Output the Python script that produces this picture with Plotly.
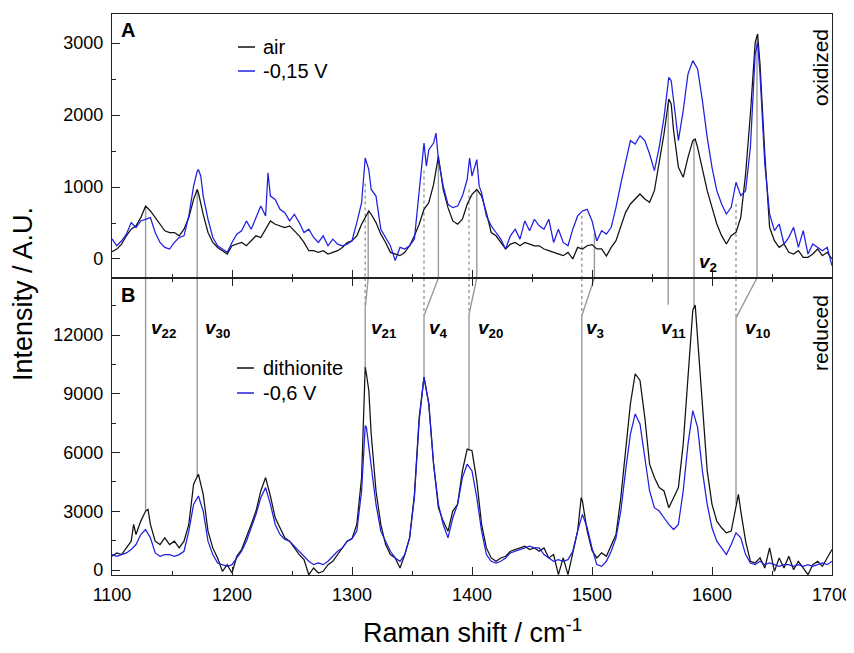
import numpy as np
import plotly.graph_objects as go

# ---------------- data ----------------
air = [(1100,100),(1104,138),(1108,207),(1112,322),(1116,414),(1120,460),(1124,575),(1128,736),(1132,667),(1136,575),(1140,483),(1144,391),(1148,368),(1152,368),(1156,322),(1160,414),(1164,575),(1168,828),(1171,966),(1172,920),(1176,621),(1180,368),(1184,230),(1188,161),(1192,115),(1196,69),(1200,184),(1204,207),(1208,230),(1212,184),(1216,253),(1220,322),(1224,299),(1228,414),(1232,529),(1236,483),(1240,460),(1244,437),(1248,460),(1252,391),(1256,322),(1260,230),(1264,115),(1268,115),(1272,92),(1276,115),(1280,69),(1284,92),(1288,115),(1292,161),(1296,230),(1300,253),(1304,322),(1308,483),(1312,621),(1314,667),(1316,621),(1320,506),(1324,345),(1328,230),(1332,92),(1336,69),(1340,46),(1344,92),(1348,184),(1352,322),(1356,483),(1360,690),(1364,782),(1368,1035),(1372,1426),(1376,966),(1380,713),(1384,529),(1388,483),(1392,552),(1396,759),(1400,897),(1404,966),(1408,874),(1412,644),(1416,368),(1420,322),(1424,230),(1428,138),(1432,207),(1436,230),(1440,184),(1444,230),(1448,207),(1452,184),(1456,184),(1460,138),(1464,115),(1468,92),(1472,69),(1476,46),(1480,92),(1484,0),(1488,161),(1492,138),(1496,184),(1500,200),(1504,139),(1508,139),(1512,40),(1516,162),(1520,255),(1524,440),(1528,648),(1532,764),(1536,833),(1540,903),(1544,833),(1548,787),(1552,949),(1556,1366),(1560,1736),(1564,2222),(1566,2153),(1568,1783),(1572,1273),(1576,1134),(1580,1412),(1584,1644),(1586,1667),(1588,1551),(1592,1227),(1596,949),(1600,718),(1604,486),(1608,324),(1612,208),(1616,324),(1620,370),(1624,579),(1628,1181),(1632,2014),(1636,3010),(1638,3125),(1640,2709),(1644,1458),(1648,440),(1652,255),(1656,162),(1660,208),(1664,93),(1668,69),(1672,116),(1676,23),(1680,23),(1684,69),(1688,139),(1692,46),(1696,93),(1700,0)]

minus015 = [(1100,280),(1104,184),(1108,253),(1112,345),(1116,506),(1120,437),(1124,529),(1128,552),(1132,575),(1136,368),(1140,230),(1144,161),(1148,138),(1152,230),(1156,299),(1160,322),(1164,598),(1168,1012),(1171,1219),(1172,1242),(1174,1150),(1176,874),(1180,552),(1184,299),(1188,184),(1192,138),(1196,92),(1200,230),(1204,345),(1208,391),(1212,529),(1216,414),(1220,575),(1224,736),(1228,598),(1230,1196),(1232,874),(1236,828),(1240,690),(1244,644),(1248,529),(1252,621),(1256,506),(1260,368),(1264,414),(1268,299),(1272,230),(1276,322),(1280,184),(1284,276),(1288,207),(1292,184),(1296,207),(1300,253),(1304,506),(1308,782),(1311,1403),(1314,1242),(1316,966),(1320,874),(1324,414),(1328,299),(1332,184),(1336,-23),(1340,161),(1344,138),(1348,184),(1352,276),(1356,920),(1360,1610),(1362,1288),(1364,1518),(1368,1610),(1370,1748),(1372,1380),(1376,1012),(1380,759),(1384,713),(1388,736),(1392,874),(1396,1104),(1398,1403),(1400,1150),(1404,1380),(1406,1012),(1408,920),(1412,598),(1416,460),(1420,368),(1424,276),(1428,138),(1432,322),(1436,414),(1440,276),(1444,529),(1448,391),(1452,552),(1456,460),(1460,414),(1464,552),(1468,230),(1472,414),(1476,230),(1480,184),(1484,414),(1488,598),(1492,667),(1496,690),(1500,532),(1504,250),(1508,394),(1512,347),(1516,440),(1520,718),(1524,1042),(1528,1366),(1532,1644),(1536,1597),(1540,1713),(1544,1644),(1548,1458),(1552,1227),(1556,1551),(1560,1968),(1564,2523),(1566,2477),(1568,2199),(1572,1644),(1576,2060),(1580,2570),(1584,2755),(1588,2639),(1592,2199),(1596,1690),(1600,1273),(1604,949),(1608,764),(1612,625),(1616,718),(1620,1065),(1624,880),(1628,949),(1632,1551),(1636,2847),(1638,3010),(1640,2570),(1644,1320),(1648,625),(1652,394),(1656,486),(1660,208),(1664,301),(1668,440),(1672,162),(1676,394),(1680,69),(1684,208),(1688,162),(1692,116),(1696,162),(1700,-93)]

dithionite = [(1100,701),(1104,872),(1108,787),(1112,1129),(1116,1471),(1118,2326),(1120,1813),(1124,2497),(1128,3010),(1130,3095),(1132,2326),(1136,1471),(1140,1300),(1144,1642),(1148,1300),(1152,1471),(1156,1129),(1160,1471),(1164,2326),(1168,4378),(1172,4891),(1176,3865),(1180,1984),(1184,1129),(1188,616),(1192,-68),(1196,274),(1200,-154),(1204,701),(1208,1043),(1212,1642),(1216,2326),(1220,3010),(1224,4036),(1228,4720),(1232,3779),(1236,2668),(1240,2155),(1244,1642),(1248,1471),(1252,1129),(1256,787),(1260,530),(1264,-239),(1268,103),(1272,-154),(1276,-68),(1280,274),(1284,445),(1288,787),(1292,1129),(1296,1471),(1300,1600),(1304,2326),(1308,4720),(1311,10363),(1312,10021),(1314,9166),(1316,6943),(1320,4036),(1324,2326),(1328,1300),(1332,787),(1336,616),(1340,103),(1344,787),(1348,1642),(1352,3865),(1356,7798),(1360,9850),(1364,8482),(1368,5404),(1372,3181),(1376,2497),(1380,1984),(1384,3010),(1388,3352),(1392,5062),(1396,6173),(1400,6088),(1404,4549),(1408,2326),(1412,1129),(1416,616),(1420,445),(1424,616),(1428,701),(1432,958),(1436,1043),(1440,1129),(1444,1214),(1448,1043),(1452,1129),(1456,958),(1460,1129),(1464,616),(1468,787),(1472,-239),(1476,616),(1480,-239),(1484,958),(1488,1984),(1491,3694),(1492,3523),(1496,1984),(1500,1000),(1504,616),(1508,872),(1512,701),(1516,1300),(1520,1813),(1524,3694),(1528,5917),(1532,8482),(1536,10021),(1540,9679),(1544,7798),(1548,5404),(1552,4720),(1556,4207),(1560,4036),(1564,3181),(1568,3694),(1572,4207),(1576,6430),(1580,9850),(1584,13270),(1586,13526),(1588,11731),(1592,8311),(1596,5062),(1600,3352),(1604,2497),(1608,2155),(1612,1898),(1616,1984),(1620,3352),(1622,3865),(1624,3010),(1628,1471),(1632,445),(1636,359),(1640,616),(1644,103),(1648,1129),(1652,-68),(1656,616),(1660,103),(1664,701),(1668,17),(1672,445),(1676,103),(1680,-239),(1684,274),(1688,445),(1692,188),(1696,616),(1700,1043)]

minus06 = [(1100,787),(1104,701),(1108,787),(1112,872),(1116,1043),(1120,1300),(1124,1813),(1128,2069),(1132,1642),(1136,872),(1140,701),(1144,787),(1148,787),(1152,701),(1156,787),(1160,958),(1164,1984),(1168,3352),(1172,3779),(1176,3010),(1180,1471),(1184,787),(1188,359),(1192,274),(1196,188),(1200,274),(1204,616),(1208,958),(1212,1471),(1216,2155),(1220,2839),(1224,3694),(1228,4207),(1232,3352),(1236,2326),(1240,1813),(1244,1556),(1248,1471),(1252,1214),(1256,958),(1260,701),(1264,445),(1268,274),(1272,359),(1276,274),(1280,445),(1284,701),(1288,958),(1292,1129),(1296,1471),(1300,1600),(1304,1984),(1308,4036),(1311,7370),(1312,7285),(1316,5404),(1320,3352),(1324,1984),(1328,1471),(1332,958),(1336,616),(1340,445),(1344,787),(1348,1642),(1352,3694),(1356,7627),(1360,9850),(1364,8482),(1368,5404),(1372,3352),(1376,2326),(1380,1642),(1384,2668),(1388,3352),(1392,4720),(1396,5404),(1400,5062),(1404,3694),(1408,1984),(1412,787),(1416,445),(1420,359),(1424,445),(1428,616),(1432,872),(1436,958),(1440,1043),(1444,1129),(1448,1214),(1452,1129),(1456,1129),(1460,787),(1464,616),(1468,445),(1472,530),(1476,445),(1480,530),(1484,958),(1488,1984),(1492,2839),(1496,2155),(1500,1129),(1504,274),(1508,188),(1512,445),(1516,958),(1520,1642),(1524,3010),(1528,5062),(1532,6943),(1536,7969),(1540,7456),(1544,5746),(1548,4036),(1552,3181),(1556,3010),(1560,2668),(1564,2326),(1568,2069),(1572,2326),(1576,4036),(1580,6430),(1584,8140),(1588,7285),(1592,5062),(1596,3352),(1600,2155),(1604,1471),(1608,1129),(1612,787),(1616,1300),(1620,1898),(1624,1642),(1628,787),(1632,359),(1636,274),(1640,445),(1644,274),(1648,359),(1652,274),(1656,188),(1660,274),(1664,274),(1668,188),(1672,274),(1676,188),(1680,274),(1684,188),(1688,274),(1692,359),(1696,274),(1700,445)]

# band assignments: oxidized position, reduced position
band_names = ["22", "30", "21", "4", "20", "3", "11", "2", "10"]
band_ox = [1128, 1171, 1313.5, 1372, 1404, 1502, 1563.5, 1585, 1637.5]
band_red = [1128, 1171, 1311, 1360, 1397.5, 1491.5, 1563.5, 1585, 1620]

x_ticks = [1100, 1200, 1300, 1400, 1500, 1600, 1700]
yA_ticks = [0, 1000, 2000, 3000]
yB_ticks = [0, 3000, 6000, 9000, 12000]

# ---------------- figure ----------------
FONT = "Arial, Liberation Sans, sans-serif"
BLACK = "#111111"
BLUE = "#1f1fe0"
GREY = "#9a9a9a"

XR = [1100, 1700]
YA = [-264, 3403]
YB = [-255, 14911]
SPLIT = 264 / 561.0
DOM_A = [1 - SPLIT, 1]
DOM_B = [0, 1 - SPLIT]

def unzip(p):
    return [a for a, b in p], [b for a, b in p]

fig = go.Figure()
for data, col, ax in [(air, BLACK, "y2"), (minus015, BLUE, "y2"),
                      (dithionite, BLACK, "y"), (minus06, BLUE, "y")]:
    xs, ys = unzip(data)
    fig.add_trace(go.Scatter(x=xs, y=ys, mode="lines", xaxis="x" if ax == "y" else "x2",
                             yaxis=ax, line=dict(color=col, width=1.25), showlegend=False))

shapes = []
def seg(x0, y0, x1, y1, yref, dash="solid"):
    shapes.append(dict(type="line", xref="x", yref=yref, x0=x0, y0=y0, x1=x1, y1=y1,
                       line=dict(color=GREY, width=1.4, dash=dash), layer="below"))

ax_, ay_ = unzip(air)
bx_, by_ = unzip(dithionite)
dashed_tops = {"21": 1050, "4": 1230, "20": 966, "3": 600, "10": 764}
bend = {"21": 13390, "4": 12980, "20": 13046, "3": 12980, "10": 12877}
for name, ox, rd in zip(band_names, band_ox, band_red):
    topA = float(np.interp(ox, ax_, ay_))
    if name == "3":
        topA = 360
    seg(ox, topA, ox, YA[0], "y2")
    if name == "11":
        seg(ox, YB[1], ox, 13540, "y")
        continue
    endB = float(np.interp(rd, bx_, by_))
    if rd != ox:
        seg(rd, dashed_tops[name], rd, YA[0], "y2", "dot")
        seg(rd, YB[1], rd, bend[name], "y", "dot")
        seg(ox, YB[1], rd, bend[name], "y")
        seg(rd, bend[name], rd, endB, "y")
    else:
        seg(ox, YB[1], ox, endB, "y")

# page body has an 8 px margin: size the figure so the plot area lands at
# x 112..832, y 14..575 of the window
OFF = 8
W, H = 854 - OFF, 653 - OFF
L, R, T, B = 112 - OFF, 22, 14 - OFF, 78
PL, PR, PT, PB = 112, 832, 14, 575
def px(x):
    return (x - PL) / (PR - PL)
def py(y):
    return (PB - y) / (PB - PT)

ann = []
lab_pos = {"22": (1142.5, "y", 12300), "30": (1187.5, "y", 12300), "21": (1326.7, "y", 12300),
           "4": (1371.7, "y", 12300), "20": (1415, "y", 12300), "3": (1502.5, "y", 12300),
           "11": (1567.5, "y", 12300), "10": (1637.5, "y", 12300), "2": (1596.7, "y2", -50)}
for name in band_names:
    x, yr, y = lab_pos[name]
    ann.append(dict(x=x, y=y, xref="x", yref=yr, showarrow=False,
                    text="<b><i>v</i></b><sub><b>" + name + "</b></sub>",
                    font=dict(family=FONT, size=19, color="black"),
                    xanchor="center", yanchor="middle"))

ann.append(dict(x=px(119), y=py(30), xref="paper", yref="paper", text="<b>A</b>", showarrow=False,
                xanchor="left", yanchor="middle", font=dict(family=FONT, size=20, color="black")))
ann.append(dict(x=px(119), y=py(295), xref="paper", yref="paper", text="<b>B</b>", showarrow=False,
                xanchor="left", yanchor="middle", font=dict(family=FONT, size=20, color="black")))
ann.append(dict(x=px(820), y=py(68), xref="paper", yref="paper", text="oxidized", showarrow=False,
                textangle=-90, xanchor="center", yanchor="middle", font=dict(family=FONT, size=21, color="black")))
ann.append(dict(x=px(820), y=py(333), xref="paper", yref="paper", text="reduced", showarrow=False,
                textangle=-90, xanchor="center", yanchor="middle", font=dict(family=FONT, size=21, color="black")))

legend_items = [("air", BLACK, 47, 238), ("-0,15 V", BLUE, 71, 238),
                ("dithionite", BLACK, 368, 237), ("-0,6 V", BLUE, 393, 237)]
for txt, col, yy, x0 in legend_items:
    shapes.append(dict(type="line", xref="paper", yref="paper", x0=px(x0), x1=px(x0 + 17),
                       y0=py(yy), y1=py(yy), line=dict(color=col, width=1.5)))
    ann.append(dict(x=px(261), y=py(yy), xref="paper", yref="paper", text=txt, showarrow=False,
                    xanchor="left", yanchor="middle", font=dict(family=FONT, size=20, color="black")))

ann.append(dict(x=px(472), y=py(631), xref="paper", yref="paper",
                text="Raman shift / cm<sup>-1</sup>", showarrow=False,
                xanchor="center", yanchor="middle", font=dict(family=FONT, size=27, color="black")))
ann.append(dict(x=px(23), y=py(294), xref="paper", yref="paper",
                text="Intensity / A.U.", showarrow=False, textangle=-90,
                xanchor="center", yanchor="middle", font=dict(family=FONT, size=27, color="black")))

tickfont = dict(family=FONT, size=18, color="black")
common_x = dict(range=XR, showgrid=False, zeroline=False, showline=True, linecolor="#222",
                linewidth=1.2, ticks="inside", ticklen=8, tickwidth=1.2, tickcolor="#222",
                tickvals=x_ticks, automargin=False,
                minor=dict(dtick=50, ticklen=4, tickwidth=1.2, ticks="inside", tickcolor="#222"))
common_y = dict(showgrid=False, zeroline=False, showline=True, linecolor="#222", linewidth=1.2,
                mirror=True, ticks="inside", ticklen=8, tickwidth=1.2, tickcolor="#222",
                tickfont=tickfont, tickformat="d", ticklabelstandoff=4, automargin=False)
fig.update_layout(
    width=W, height=H, margin=dict(l=L, r=R, t=T, b=B, autoexpand=False),
    paper_bgcolor="white", plot_bgcolor="white", showlegend=False,
    xaxis=dict(**common_x, anchor="y", domain=[0, 1], mirror="ticks",
               tickfont=tickfont, ticklabelstandoff=3),
    xaxis2=dict(**common_x, anchor="y2", domain=[0, 1], mirror=True, matches="x",
                showticklabels=False),
    yaxis=dict(**common_y, range=YB, domain=DOM_B, tickvals=yB_ticks, anchor="x",
               minor=dict(dtick=1500, ticklen=4, tickwidth=1.2, ticks="inside", tickcolor="#222")),
    yaxis2=dict(**common_y, range=YA, domain=DOM_A, tickvals=yA_ticks, anchor="x2",
                minor=dict(dtick=500, ticklen=4, tickwidth=1.2, ticks="inside", tickcolor="#222")),
    shapes=shapes, annotations=ann,
)

fig.write_html("out.html")
